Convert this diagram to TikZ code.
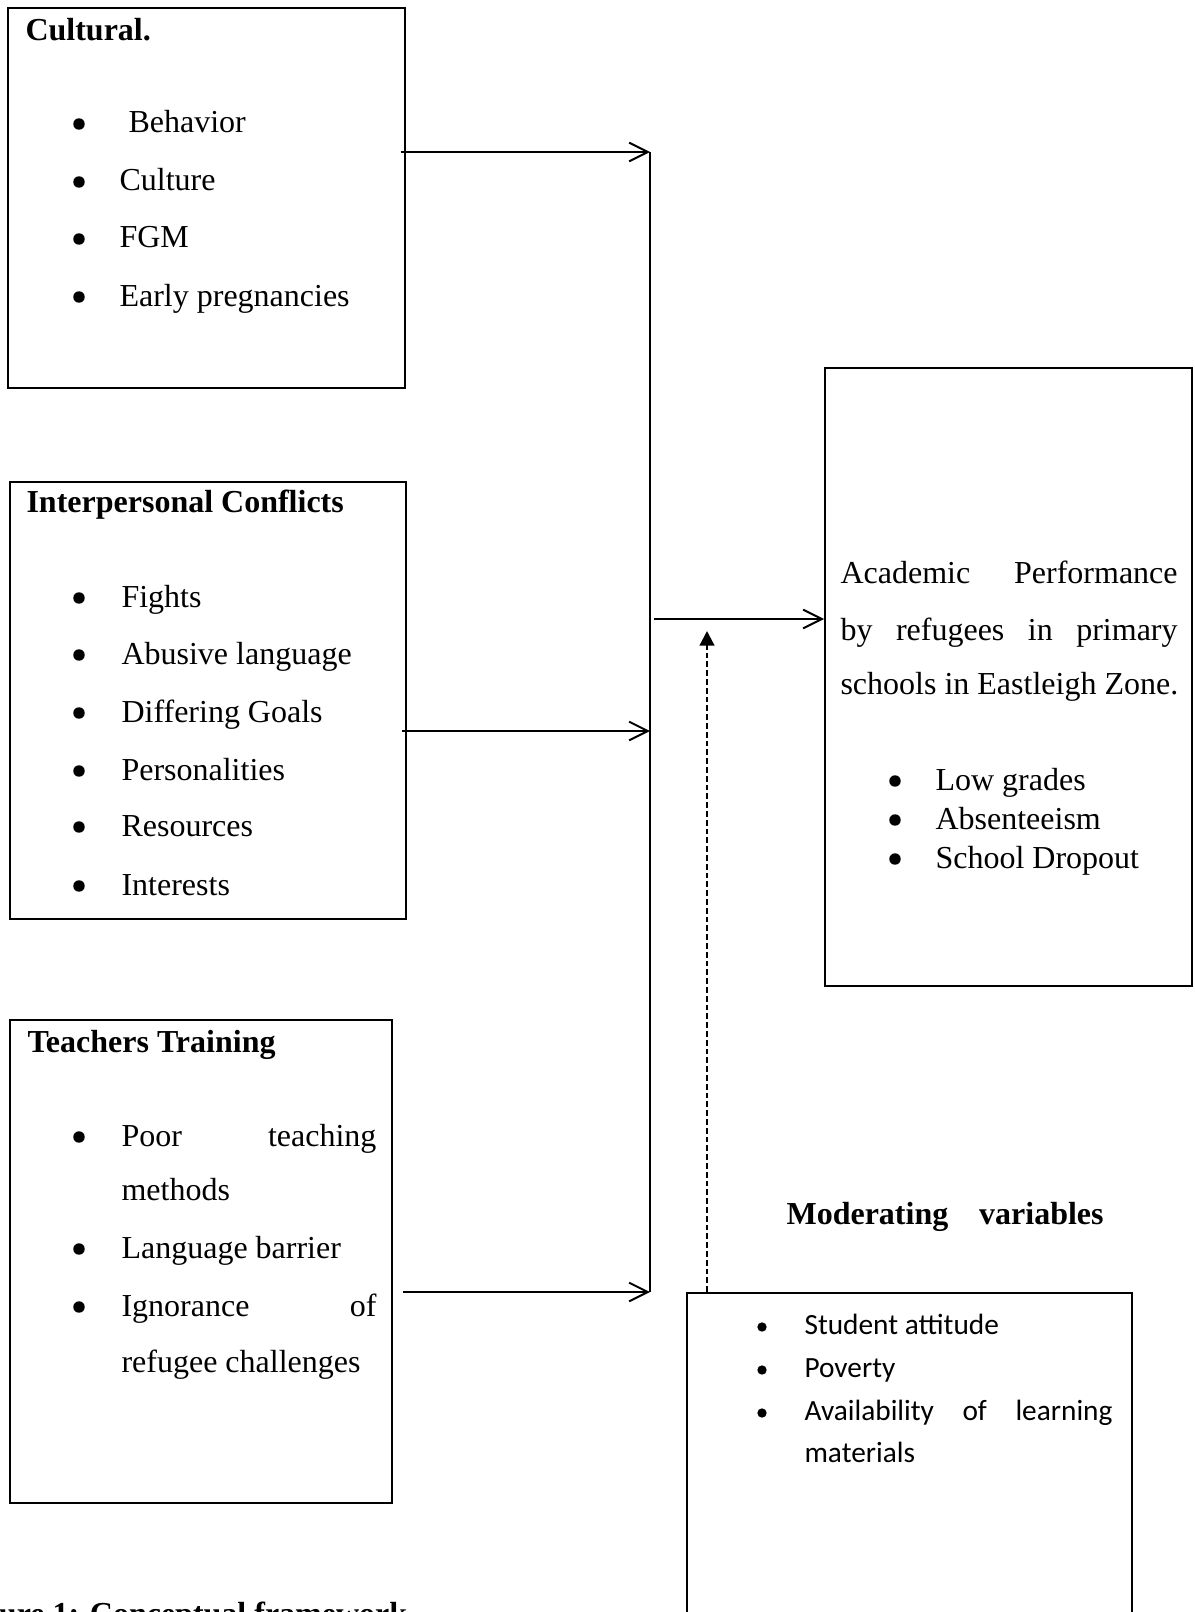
\documentclass[12pt,tikz,border=0pt]{standalone}
\usepackage{fontspec}
\setmainfont{Liberation Serif}
\newfontfamily\calibri{Carlito}
\usetikzlibrary{arrows.meta, fit}

\tikzset{
  box/.style={draw, line width=0.75pt, inner sep=0pt},
  head/.style={anchor=base west, inner sep=0pt, font=\bfseries},
  item/.style={anchor=base west, inner sep=0pt},
  moditem/.style={anchor=base west, inner sep=0pt, font=\calibri\fontsize{11pt}{13pt}\selectfont},
  dot/.style={circle, fill, inner sep=0pt, minimum size=4.3pt},
  moddot/.style={circle, fill, inner sep=0pt, minimum size=3.5pt},
  wire/.style={line width=0.75pt},
  arr/.style={line width=0.75pt, -{Straight Barb[length=7pt, width=7pt]}},
  modarr/.style={line width=0.85pt, dash pattern=on 2.2pt off 1.1pt, -{Triangle[length=5.5pt, width=5.5pt]}},
}

\begin{document}
\begin{tikzpicture}[x=0.375pt, y=-0.375pt]
  \useasboundingbox (0,0) rectangle (1194,1612);
  \clip (0,0) rectangle (1194,1612);

  % Cultural factors
  \node[box, fit={(8,8) (405,388)}] (cult) {};
  \node[head] (culth) at (25,41) {Cultural.};
  \foreach \x/\y/\t [count=\i] in {128/133/Behavior, 119/191/Culture, 119/248/FGM, 119/306/Early pregnancies} {
    \node[dot] (cb\i) at (79,\y-9) {};
    \node[item] (ct\i) at (\x,\y) {\t};
  }

  % Interpersonal conflicts
  \node[box, fit={(10,482) (406,919)}] (inter) {};
  \node[head] (interh) at (26,512) {Interpersonal Conflicts};
  \foreach \y/\t [count=\i] in {607/Fights, 664/Abusive language, 722/Differing Goals, 780/Personalities, 836/Resources, 895/Interests} {
    \node[dot] (ib\i) at (79,\y-9) {};
    \node[item] (it\i) at (121,\y) {\t};
  }

  % Teachers training
  \node[box, fit={(10,1020) (392,1503)}] (teach) {};
  \node[head] (teachh) at (27,1052) {Teachers Training};
  \foreach \y [count=\i] in {1146, 1258, 1316}
    \node[dot] (tb\i) at (79,\y-9) {};
  \node[item] (tt1) at (121,1146) {\makebox[95.6pt][s]{Poor teaching}};
  \node[item] (tt2) at (121,1200) {methods};
  \node[item] (tt3) at (121,1258) {Language barrier};
  \node[item] (tt4) at (121,1316) {\makebox[95.6pt][s]{Ignorance of}};
  \node[item] (tt5) at (121,1372) {refugee challenges};

  % Academic performance
  \node[box, fit={(825,368) (1192,986)}] (acad) {};
  \node[item] (at1) at (840,583) {\makebox[126.4pt][s]{Academic Performance}};
  \node[item] (at2) at (840,640) {\makebox[126.4pt][s]{by refugees in primary}};
  \node[item] (at3) at (840,694) {schools in Eastleigh Zone.};
  \foreach \y/\t [count=\i] in {790/Low grades, 829/Absenteeism, 868/School Dropout} {
    \node[dot] (ab\i) at (895,\y-9) {};
    \node[item] (aa\i) at (935,\y) {\t};
  }

  % Moderating variables
  \node[head] (modh) at (786,1224) {\makebox[118.9pt][s]{Moderating variables}};
  \node[box, fit={(687,1293) (1132,1650)}] (mod) {};
  \foreach \y [count=\i] in {1334, 1377, 1420}
    \node[moddot] (mb\i) at (762,\y-7) {};
  \node[moditem] (mt1) at (804,1334) {Student attitude};
  \node[moditem] (mt2) at (804,1377) {Poverty};
  \node[moditem] (mt3) at (804,1420) {\makebox[115.5pt][s]{Availability of learning}};
  \node[moditem] (mt4) at (804,1462) {materials};

  % Connectors
  \coordinate (bus1) at (650,152);
  \coordinate (bus2) at (650,731);
  \coordinate (bus3) at (650,1292);
  \coordinate (busmid) at (650,619);
  \coordinate (modtip) at (707,631);
  \draw[wire] (bus1) -- (bus3);
  \draw[arr] ([xshift=-2pt]cult.east |- bus1) -- (bus1);
  \draw[arr] ([xshift=-2pt]inter.east |- bus2) -- (bus2);
  \draw[arr] ([xshift=3.75pt]teach.east |- bus3) -- (bus3);
  \draw[arr] ([xshift=1.5pt]busmid) -- (acad.west |- busmid);
  \draw[modarr] (mod.north -| modtip) -- (modtip);

  % Caption (cut at the page edge)
  \node[head] (cap) at (-46,1624) {Figure 1: Conceptual framework};
\end{tikzpicture}
\end{document}
